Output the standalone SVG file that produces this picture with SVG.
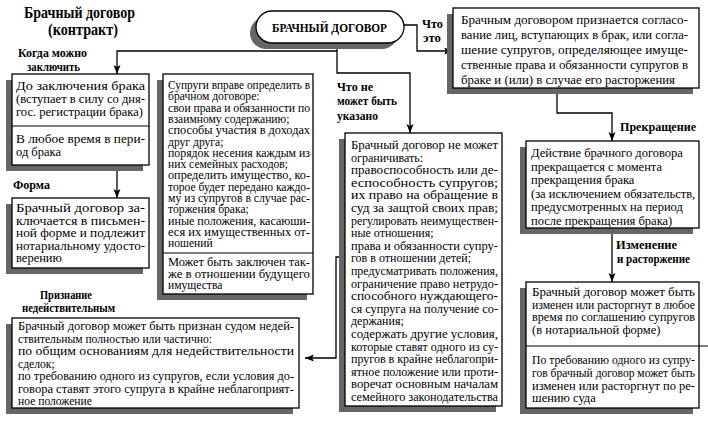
<svg xmlns="http://www.w3.org/2000/svg" width="708" height="425" viewBox="0 0 708 425">
<defs>
<marker id="ah" markerUnits="userSpaceOnUse" markerWidth="10" markerHeight="8" refX="9" refY="3.5" orient="auto">
<path d="M0,0 L9,3.5 L0,7 L2,3.5 z" fill="#000"/>
</marker>
</defs>
<style>
text{font-family:"Liberation Serif","Times New Roman",serif;fill:#000}
.box{fill:#fff;stroke:#000;stroke-width:1.3}
.sh{fill:#666}
.div{stroke:#000;stroke-width:1.1;fill:none}
.con{fill:none;stroke:#000;stroke-width:1.3}
.lbl{font-weight:bold;font-size:11.5px}
.title{font-weight:bold;font-size:16px}
.t125{font-size:12.5px}
.t12{font-size:12px}
.t116{font-size:11.6px}
.t13{font-size:13px}
</style>
<rect width="708" height="425" fill="#fff"/>

<g id="title">
<text class="title" x="24" y="18" textLength="111" lengthAdjust="spacingAndGlyphs">Брачный договор</text>
<text class="title" x="48" y="35" textLength="70" lengthAdjust="spacingAndGlyphs">(контракт)</text>
</g>

<g id="connectors">
<path class="con" d="M404,25 H417 V51 H453" marker-end="url(#ah)"/>
<path class="con" d="M337,43 V73 H410 V133" marker-end="url(#ah)"/>
<path class="con" d="M337,51 H117 V74" marker-end="url(#ah)"/>
<path class="con" d="M557,88 V113 H612 V141" marker-end="url(#ah)"/>
<path class="con" d="M612,228 V282" marker-end="url(#ah)"/>
<path class="con" d="M117,165 V198" marker-end="url(#ah)"/>
<path class="con" d="M345,257 H336 V358 H305" marker-end="url(#ah)"/>
</g>

<g id="labels">
<text class="lbl" x="18" y="57" textLength="69" lengthAdjust="spacingAndGlyphs">Когда можно</text>
<text class="lbl" x="27" y="71" textLength="53" lengthAdjust="spacingAndGlyphs">заключить</text>
<text class="lbl" x="13" y="189" textLength="37" lengthAdjust="spacingAndGlyphs">Форма</text>
<text class="lbl" x="422" y="28" textLength="21" lengthAdjust="spacingAndGlyphs">Что</text>
<text class="lbl" x="423" y="42" textLength="18" lengthAdjust="spacingAndGlyphs">это</text>
<text class="lbl" x="337" y="91" textLength="36" lengthAdjust="spacingAndGlyphs">Что не</text>
<text class="lbl" x="337" y="105" textLength="60" lengthAdjust="spacingAndGlyphs">может быть</text>
<text class="lbl" x="337" y="120" textLength="41" lengthAdjust="spacingAndGlyphs">указано</text>
<text class="lbl" x="620" y="131" textLength="76" lengthAdjust="spacingAndGlyphs">Прекращение</text>
<text class="lbl" x="616" y="249" textLength="61" lengthAdjust="spacingAndGlyphs">Изменение</text>
<text class="lbl" x="617" y="263" textLength="73" lengthAdjust="spacingAndGlyphs">и расторжение</text>
<text class="lbl" x="40" y="299" textLength="52" lengthAdjust="spacingAndGlyphs">Признание</text>
<text class="lbl" x="22" y="312" textLength="93" lengthAdjust="spacingAndGlyphs">недействительным</text>
</g>

<g id="n-root">
<rect class="sh" x="250" y="17" width="148" height="32" rx="16"/>
<rect class="box" x="256" y="11" width="148" height="32" rx="16"/>
<text x="272" y="32" font-weight="bold" font-size="12" textLength="115" lengthAdjust="spacingAndGlyphs">БРАЧНЫЙ ДОГОВОР</text>
</g>

<g id="n-what">
<rect class="sh" x="447" y="14" width="246" height="80"/>
<rect class="box" x="453" y="8" width="246" height="80"/>
<text class="t13" x="461" y="24" textLength="227" lengthAdjust="spacingAndGlyphs">Брачным договором признается согласо-</text>
<text class="t13" x="461" y="39" textLength="227" lengthAdjust="spacingAndGlyphs">вание лиц, вступающих в брак, или согла-</text>
<text class="t13" x="461" y="54" textLength="227" lengthAdjust="spacingAndGlyphs">шение супругов, определяющее имуще-</text>
<text class="t13" x="461" y="69" textLength="227" lengthAdjust="spacingAndGlyphs">ственные права и обязанности супругов в</text>
<text class="t13" x="461" y="84" textLength="214" lengthAdjust="spacingAndGlyphs">браке и (или) в случае его расторжения</text>
</g>

<g id="n-when">
<rect class="sh" x="6" y="80" width="137" height="91"/>
<rect class="box" x="12" y="74" width="137" height="91"/>
<line class="div" x1="12" y1="126" x2="149" y2="126"/>
<text class="t125" x="16" y="90" textLength="129" lengthAdjust="spacingAndGlyphs">До заключения брака</text>
<text class="t125" x="16" y="103" textLength="129" lengthAdjust="spacingAndGlyphs">(вступает в силу со дня-</text>
<text class="t125" x="16" y="116" textLength="127" lengthAdjust="spacingAndGlyphs">гос. регистрации брака)</text>
<text class="t125" x="16" y="143" textLength="129" lengthAdjust="spacingAndGlyphs">В любое время в пери-</text>
<text class="t125" x="16" y="156">од брака</text>
</g>

<g id="n-form">
<rect class="sh" x="6" y="204" width="137" height="70"/>
<rect class="box" x="12" y="198" width="137" height="70"/>
<text class="t125" x="16" y="212" textLength="129" lengthAdjust="spacingAndGlyphs">Брачный договор за-</text>
<text class="t125" x="16" y="224.5" textLength="129" lengthAdjust="spacingAndGlyphs">ключается в письмен-</text>
<text class="t125" x="16" y="237" textLength="129" lengthAdjust="spacingAndGlyphs">ной форме и подлежит</text>
<text class="t125" x="16" y="249.5" textLength="129" lengthAdjust="spacingAndGlyphs">нотариальному удосто-</text>
<text class="t125" x="16" y="262">верению</text>
</g>

<g id="n-may">
<rect class="sh" x="157" y="80" width="150" height="220"/>
<rect class="box" x="163" y="74" width="150" height="220"/>
<line class="div" x1="163" y1="253" x2="313" y2="253"/>
<text class="t116" x="168" y="89" textLength="142" lengthAdjust="spacingAndGlyphs">Супруги вправе определить в</text>
<text class="t116" x="168" y="100.3">брачном договоре:</text>
<text class="t116" x="168" y="111.6" textLength="142" lengthAdjust="spacingAndGlyphs">свои права и обязанности по</text>
<text class="t116" x="168" y="122.9">взаимному содержанию;</text>
<text class="t116" x="168" y="134.2" textLength="142" lengthAdjust="spacingAndGlyphs">способы участия в доходах</text>
<text class="t116" x="168" y="145.5">друг друга;</text>
<text class="t116" x="168" y="156.8" textLength="142" lengthAdjust="spacingAndGlyphs">порядок несения каждым из</text>
<text class="t116" x="168" y="168.1">них семейных расходов;</text>
<text class="t116" x="168" y="179.4" textLength="142" lengthAdjust="spacingAndGlyphs">определить имущество, ко-</text>
<text class="t116" x="168" y="190.7" textLength="142" lengthAdjust="spacingAndGlyphs">торое будет передано каждо-</text>
<text class="t116" x="168" y="202" textLength="142" lengthAdjust="spacingAndGlyphs">му из супругов в случае рас-</text>
<text class="t116" x="168" y="213.3">торжения брака;</text>
<text class="t116" x="168" y="224.6" textLength="142" lengthAdjust="spacingAndGlyphs">иные положения, касаюши-</text>
<text class="t116" x="168" y="235.9" textLength="142" lengthAdjust="spacingAndGlyphs">еся их имущественных от-</text>
<text class="t116" x="168" y="247.2">ношений</text>
<text class="t116" x="168" y="266" textLength="142" lengthAdjust="spacingAndGlyphs">Может быть заключен так-</text>
<text class="t116" x="168" y="277.5" textLength="142" lengthAdjust="spacingAndGlyphs">же в отношении будущего</text>
<text class="t116" x="168" y="289">имущества</text>
</g>

<g id="n-cannot">
<rect class="sh" x="339" y="139" width="157" height="273"/>
<rect class="box" x="345" y="133" width="157" height="273"/>
<text class="t12" x="351" y="149" textLength="147" lengthAdjust="spacingAndGlyphs">Брачный договор не может</text>
<text class="t12" x="351" y="161.6">ограничивать:</text>
<text class="t12" x="351" y="174.2" textLength="147" lengthAdjust="spacingAndGlyphs">правоспособность или де-</text>
<text class="t12" x="351" y="186.8" textLength="147" lengthAdjust="spacingAndGlyphs">еспособность супругов;</text>
<text class="t12" x="351" y="199.4" textLength="147" lengthAdjust="spacingAndGlyphs">их право на обращение в</text>
<text class="t12" x="351" y="212" textLength="147" lengthAdjust="spacingAndGlyphs">суд за защтой своих прав;</text>
<text class="t12" x="351" y="224.6" textLength="147" lengthAdjust="spacingAndGlyphs">регулировать неимуществен-</text>
<text class="t12" x="351" y="237.2">ные отношения;</text>
<text class="t12" x="351" y="249.8" textLength="147" lengthAdjust="spacingAndGlyphs">права и обязанности супру-</text>
<text class="t12" x="351" y="262.4">гов в отношении детей;</text>
<text class="t12" x="351" y="275" textLength="147" lengthAdjust="spacingAndGlyphs">предусматривать положения,</text>
<text class="t12" x="351" y="287.6" textLength="147" lengthAdjust="spacingAndGlyphs">ограничение право нетрудо-</text>
<text class="t12" x="351" y="300.2" textLength="147" lengthAdjust="spacingAndGlyphs">способного нуждающего-</text>
<text class="t12" x="351" y="312.8" textLength="147" lengthAdjust="spacingAndGlyphs">ся супруга на получение со-</text>
<text class="t12" x="351" y="325.4">держания;</text>
<text class="t12" x="351" y="338" textLength="147" lengthAdjust="spacingAndGlyphs">содержать другие условия,</text>
<text class="t12" x="351" y="350.6" textLength="147" lengthAdjust="spacingAndGlyphs">которые ставят одного из су-</text>
<text class="t12" x="351" y="363.2" textLength="147" lengthAdjust="spacingAndGlyphs">пругов в крайне неблагопри-</text>
<text class="t12" x="351" y="375.8" textLength="147" lengthAdjust="spacingAndGlyphs">ятное положение или проти-</text>
<text class="t12" x="351" y="388.4" textLength="147" lengthAdjust="spacingAndGlyphs">воречат основным началам</text>
<text class="t12" x="351" y="401" textLength="147" lengthAdjust="spacingAndGlyphs">семейного законодательства</text>
</g>

<g id="n-invalid">
<rect class="sh" x="6" y="324" width="287" height="90"/>
<rect class="box" x="12" y="318" width="287" height="90"/>
<text class="t116" x="18" y="330" textLength="276" lengthAdjust="spacingAndGlyphs">Брачный договор может быть признан судом недей-</text>
<text class="t116" x="18" y="342.5">ствительным полностью или частично:</text>
<text class="t116" x="18" y="355" textLength="276" lengthAdjust="spacingAndGlyphs">по общим основаниям для недействительности</text>
<text class="t116" x="18" y="367.5">сделок;</text>
<text class="t116" x="18" y="380" textLength="276" lengthAdjust="spacingAndGlyphs">по требованию одного из супругов, если условия до-</text>
<text class="t116" x="18" y="392.5" textLength="276" lengthAdjust="spacingAndGlyphs">говора ставят этого супруга в крайне неблагоприят-</text>
<text class="t116" x="18" y="405">ное положение</text>
</g>

<g id="n-end">
<rect class="sh" x="520" y="147" width="173" height="87"/>
<rect class="box" x="526" y="141" width="173" height="87"/>
<text class="t125" x="531" y="157">Действие брачного договора</text>
<text class="t125" x="531" y="170.5">прекращается с момента</text>
<text class="t125" x="531" y="184">прекращения брака</text>
<text class="t125" x="531" y="197.5">(за исключением обязательств,</text>
<text class="t125" x="531" y="211">предусмотренных на период</text>
<text class="t125" x="531" y="224.5">после прекращения брака)</text>
</g>

<g id="n-change">
<rect class="sh" x="520" y="288" width="173" height="126"/>
<rect class="box" x="526" y="282" width="173" height="126"/>
<line class="div" x1="526" y1="346" x2="708" y2="346"/>
<text class="t125" x="532" y="296" textLength="163" lengthAdjust="spacingAndGlyphs">Брачный договор может быть</text>
<text class="t125" x="532" y="308.7" textLength="163" lengthAdjust="spacingAndGlyphs">изменен или расторгнут в любое</text>
<text class="t125" x="532" y="321.3" textLength="163" lengthAdjust="spacingAndGlyphs">время по соглашению супругов</text>
<text class="t125" x="532" y="334">(в нотариальной форме)</text>
<text class="t125" x="532" y="363.5" textLength="163" lengthAdjust="spacingAndGlyphs">По требованию одного из супру-</text>
<text class="t125" x="532" y="376.5" textLength="163" lengthAdjust="spacingAndGlyphs">гов брачный договор может быть</text>
<text class="t125" x="532" y="389.5" textLength="163" lengthAdjust="spacingAndGlyphs">изменен или расторгнут по ре-</text>
<text class="t125" x="532" y="402">шению суда</text>
</g>
</svg>
